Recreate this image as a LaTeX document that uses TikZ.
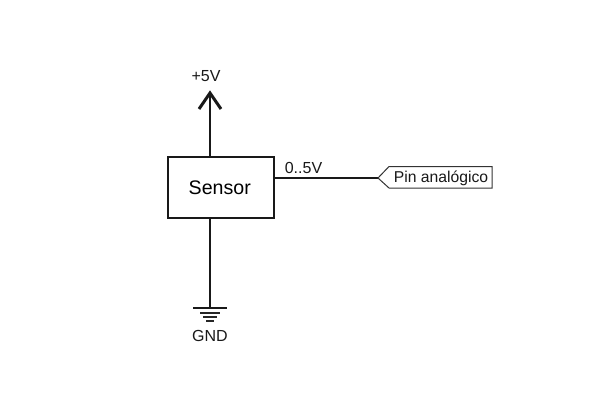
\documentclass[tikz,border=0pt]{standalone}
\usepackage{fontspec}
\setmainfont{Liberation Sans}
\tikzset{
  wire/.style={line width=2.1pt,color=black!90},
  sensorbox/.style={draw=black!90,line width=2.1pt,fill=white,minimum width=106pt,minimum height=60.5pt,inner sep=0pt,font=\fontsize{19.6}{20}\selectfont},
  lbl/.style={inner sep=0pt,anchor=center,text=black!90,font=\fontsize{16}{16}\selectfont},
  pinlbl/.style={inner sep=0pt,anchor=center,text=black!90,font=\fontsize{15.7}{16}\selectfont},
  pinshape/.style={draw=black!80,line width=1pt,fill=white,line join=miter},
  headstroke/.style={line width=3pt,color=black!90,line cap=butt,line join=miter},
}
\begin{document}
\begin{tikzpicture}[x=1pt,y=-1pt]
\useasboundingbox (0,0) rectangle (600,400);
\fill[white] (0,0) rectangle (600,400);
% named points
\node[sensorbox,text depth=0pt] (sensor) at (220.75,187.5) {\hspace*{-2pt}Sensor};
\coordinate (vcc) at (210,93);
\coordinate (vcl) at (199,109);
\coordinate (vcr) at (221,109);
\coordinate (gnd) at (210,308);
\coordinate (pintip) at (378,178);
% supply and ground connectors
\draw[wire] (vcc) -- (vcc |- sensor.north);
\draw[headstroke] (vcl) -- (vcc) -- (vcr);
\draw[wire] (gnd |- sensor.south) -- (gnd);
% ground symbol
\draw[line width=2.8pt,color=black!90] (193,308) -- (227,308);
\draw[line width=2.2pt,color=black!85] (200,312.8) -- (220,312.8);
\draw[line width=2pt,color=black!85] (203,316.8) -- (217,316.8);
\draw[line width=2pt,color=black!85] (206,320.5) -- (214,320.5);
% signal
\draw[wire] (pintip -| sensor.east) -- (pintip);
\draw[pinshape] (pintip) -- (389,166.5) -- (492,166.5) -- (492,188) -- (389,188) -- cycle;
% labels
\node[lbl] (vlabel) at (206,76.5) {+5V};
\node[lbl] (glabel) at (210,335.5) {GND};
\node[lbl] (siglabel) at (303.5,168) {0..5V};
\node[pinlbl] (pinlabel) at (441,178.5) {Pin analógico};
\end{tikzpicture}
\end{document}
